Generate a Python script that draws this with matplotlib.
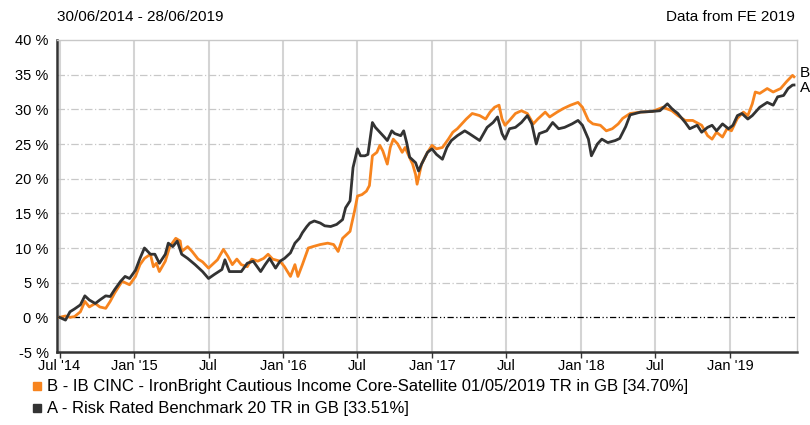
import matplotlib
matplotlib.use("Agg")
import matplotlib.pyplot as plt
import numpy as np

plt.rcParams['font.family'] = ['Liberation Sans', 'DejaVu Sans']

# Decimal-year positions and cumulative % growth
b_year = [2014.50, 2014.54, 2014.57, 2014.60, 2014.64, 2014.67, 2014.70, 2014.74, 2014.77, 2014.81,
          2014.84, 2014.87, 2014.92, 2014.95, 2014.97, 2015.01, 2015.04, 2015.07, 2015.11, 2015.13,
          2015.15, 2015.17, 2015.21, 2015.24, 2015.28, 2015.31, 2015.32, 2015.36, 2015.39, 2015.43,
          2015.46, 2015.50, 2015.51, 2015.56, 2015.60, 2015.63, 2015.66, 2015.69, 2015.72, 2015.76,
          2015.79, 2015.83, 2015.87, 2015.90, 2015.93, 2015.98, 2016.01, 2016.05, 2016.08, 2016.10,
          2016.13, 2016.17, 2016.20, 2016.25, 2016.30, 2016.34, 2016.37, 2016.40, 2016.45, 2016.46,
          2016.48, 2016.50, 2016.53, 2016.56, 2016.58, 2016.60, 2016.63, 2016.65, 2016.67, 2016.70,
          2016.72, 2016.74, 2016.77, 2016.80, 2016.82, 2016.84, 2016.87, 2016.89, 2016.90, 2016.93,
          2016.97, 2017.00, 2017.03, 2017.07, 2017.11, 2017.14, 2017.17, 2017.23, 2017.27, 2017.32,
          2017.36, 2017.39, 2017.42, 2017.45, 2017.47, 2017.49, 2017.52, 2017.56, 2017.60, 2017.64,
          2017.68, 2017.71, 2017.76, 2017.79, 2017.84, 2017.88, 2017.93, 2017.98, 2018.01, 2018.05,
          2018.08, 2018.13, 2018.17, 2018.21, 2018.25, 2018.28, 2018.33, 2018.40, 2018.48, 2018.55,
          2018.61, 2018.65, 2018.70, 2018.75, 2018.81, 2018.85, 2018.88, 2018.91, 2018.95, 2018.98,
          2019.01, 2019.05, 2019.09, 2019.12, 2019.15, 2019.17, 2019.20, 2019.25, 2019.29, 2019.34,
          2019.38, 2019.42, 2019.43]
b_pct = [0.0, 0.2, 0.0, 0.1, 0.8, 2.3, 1.5, 2.0, 1.5, 1.3,
         2.3, 3.5, 5.2, 4.9, 4.7, 5.9, 7.6, 8.5, 9.1, 7.3,
         7.8, 6.6, 8.1, 10.2, 11.4, 11.0, 9.5, 10.2, 9.5, 8.4,
         8.0, 7.1, 7.3, 8.3, 9.8, 8.8, 7.6, 8.4, 7.6, 7.3,
         8.4, 8.1, 8.5, 9.1, 8.4, 8.1, 7.3, 5.9, 7.6, 5.9,
         7.6, 10.0, 10.2, 10.5, 10.7, 10.5, 9.5, 11.4, 12.4, 13.4,
         15.3, 17.5, 17.7, 18.2, 19.0, 23.3, 23.8, 24.8, 24.0, 22.1,
         24.5, 25.7, 25.0, 23.8, 24.5, 23.5, 22.1, 20.6, 19.2, 22.1,
         23.8, 24.8, 24.3, 24.5, 25.7, 26.7, 27.2, 28.6, 29.4, 29.1,
         28.6, 29.6, 30.3, 30.6, 28.6, 27.7, 28.4, 29.4, 29.8, 29.4,
         27.9, 28.6, 29.6, 28.9, 29.6, 30.1, 30.6, 31.0, 30.3, 28.4,
         27.9, 27.7, 26.9, 27.2, 27.9, 28.7, 29.4, 29.6, 29.7, 30.3,
         29.8, 29.1, 28.4, 28.4, 27.7, 26.2, 25.7, 26.7, 26.0, 27.2,
         26.9, 28.7, 29.6, 29.1, 30.8, 32.5, 32.3, 33.0, 32.5, 33.0,
         34.0, 34.9, 34.7]

a_year = [2014.50, 2014.54, 2014.57, 2014.60, 2014.64, 2014.67, 2014.70, 2014.74, 2014.77, 2014.81,
          2014.84, 2014.87, 2014.91, 2014.94, 2014.97, 2015.01, 2015.04, 2015.07, 2015.11, 2015.14,
          2015.17, 2015.21, 2015.23, 2015.26, 2015.29, 2015.32, 2015.36, 2015.41, 2015.46, 2015.50,
          2015.54, 2015.59, 2015.61, 2015.64, 2015.69, 2015.72, 2015.76, 2015.80, 2015.85, 2015.88,
          2015.91, 2015.95, 2015.98, 2016.01, 2016.05, 2016.08, 2016.11, 2016.13, 2016.16, 2016.18,
          2016.21, 2016.25, 2016.28, 2016.32, 2016.36, 2016.40, 2016.42, 2016.45, 2016.47, 2016.50,
          2016.52, 2016.55, 2016.57, 2016.60, 2016.62, 2016.65, 2016.68, 2016.70, 2016.73, 2016.75,
          2016.79, 2016.81, 2016.83, 2016.85, 2016.89, 2016.91, 2016.93, 2016.97, 2017.00, 2017.03,
          2017.07, 2017.10, 2017.13, 2017.17, 2017.22, 2017.25, 2017.32, 2017.37, 2017.41, 2017.44,
          2017.47, 2017.49, 2017.52, 2017.56, 2017.60, 2017.64, 2017.67, 2017.70, 2017.72, 2017.77,
          2017.81, 2017.85, 2017.89, 2017.94, 2017.98, 2018.01, 2018.05, 2018.07, 2018.11, 2018.14,
          2018.18, 2018.23, 2018.26, 2018.30, 2018.33, 2018.40, 2018.48, 2018.53, 2018.58, 2018.61,
          2018.65, 2018.70, 2018.73, 2018.78, 2018.81, 2018.85, 2018.88, 2018.91, 2018.95, 2018.99,
          2019.02, 2019.05, 2019.08, 2019.12, 2019.15, 2019.20, 2019.25, 2019.29, 2019.32, 2019.36,
          2019.39, 2019.42, 2019.43]
a_pct = [0.0, -0.4, 0.8, 1.2, 1.8, 3.1, 2.5, 2.0, 2.5, 3.1,
         3.0, 4.0, 5.2, 5.9, 5.6, 6.8, 8.5, 10.0, 9.1, 9.1,
         7.8, 9.1, 10.7, 10.2, 11.0, 9.1, 8.5, 7.6, 6.6, 5.6,
         6.2, 6.9, 8.3, 6.6, 6.6, 6.6, 7.8, 8.1, 6.6, 7.6,
         8.5, 7.1, 8.1, 8.5, 9.3, 10.7, 11.4, 12.2, 13.1, 13.6,
         13.9, 13.6, 13.2, 13.1, 13.4, 14.1, 15.8, 16.8, 21.6, 24.3,
         23.3, 23.3, 23.5, 28.1, 27.4, 26.7, 26.0, 25.5, 26.9, 26.5,
         26.2, 26.9, 25.2, 23.1, 22.3, 21.1, 22.1, 23.8, 24.3, 23.5,
         22.8, 24.5, 25.5, 26.2, 26.9, 26.5, 25.5, 27.4, 28.1, 28.9,
         26.5, 25.7, 27.2, 27.4, 28.1, 29.1, 27.9, 25.0, 26.5, 26.9,
         28.1, 27.2, 27.4, 27.9, 28.4, 27.7, 25.7, 23.3, 25.0, 25.7,
         25.2, 25.5, 25.8, 27.5, 29.2, 29.6, 29.7, 29.8, 30.8, 30.1,
         29.4, 28.1, 27.2, 27.7, 26.7, 27.4, 27.7, 26.9, 27.9, 27.2,
         27.7, 29.1, 29.4, 28.6, 29.1, 30.3, 31.0, 30.6, 31.8, 32.0,
         33.0, 33.5, 33.51]

tick_pos = [2014.5, 2015.0, 2015.5, 2016.0, 2016.5, 2017.0, 2017.5, 2018.0, 2018.5, 2019.0]
tick_lbl = ["Jul '14", "Jan '15", "Jul", "Jan '16", "Jul", "Jan '17", "Jul", "Jan '18", "Jul", "Jan '19"]
y_ticks = [-5, 0, 5, 10, 15, 20, 25, 30, 35, 40]

orange = '#f7841e'
dark = '#333333'

fig = plt.figure(figsize=(8.1, 4.25), dpi=100)
ax = fig.add_axes([57/810, 73/425, 740/810, 312/425])

ax.plot(b_year, b_pct, color=orange, lw=2.0, zorder=3)
ax.plot(a_year, a_pct, color=dark, lw=2.0, zorder=4)

ax.set_xlim(2014.483, 2019.45)
ax.set_ylim(-5, 40)

# grid
for t in tick_pos:
    ax.axvline(t, color='#d4d4d4', lw=1.5, zorder=1)
for v in y_ticks[2:-1]:
    ax.axhline(v, color='#c8c8c8', lw=0.9, dashes=(6, 2, 1, 2), zorder=1)
ax.axhline(0, color='black', lw=0.9, dashes=(5, 2, 1, 2, 1, 2), zorder=2)

ax.set_xticks(tick_pos)
ax.set_xticklabels(tick_lbl, fontsize=10.5)
ax.set_yticks(y_ticks)
ax.set_yticklabels(['%d %%' % v for v in y_ticks], fontsize=10.5)
ax.tick_params(axis='x', length=4, width=1, color='#333333', pad=1)
ax.tick_params(axis='y', length=0, pad=6)

for s in ['top', 'right']:
    ax.spines[s].set_color('#c8c8c8')
    ax.spines[s].set_linewidth(1)
for s in ['left', 'bottom']:
    ax.spines[s].set_color('#333333')
    ax.spines[s].set_linewidth(1.8)

fig.text(57/810, 1 - 17/425, '30/06/2014 - 28/06/2019', fontsize=11, va='center', ha='left')
fig.text(795/810, 1 - 17/425, 'Data from FE 2019', fontsize=11, va='center', ha='right')

fig.text(800/810, 1 - 73/425, 'B', fontsize=11, va='center', ha='left')
fig.text(800/810, 1 - 88/425, 'A', fontsize=11, va='center', ha='left')

# legend rows
names = ['B - IB CINC - IronBright Cautious Income Core-Satellite 01/05/2019 TR in GB [34.70%]',
         'A - Risk Rated Benchmark 20 TR in GB [33.51%]']
for name, col, yy in zip(names, [orange, dark], [386, 408]):
    fig.patches.append(plt.Rectangle((33/810, 1 - (yy + 4)/425), 8/810, 8/425,
                                     transform=fig.transFigure, color=col, figure=fig))
    fig.text(47/810, 1 - yy/425, name, fontsize=12, va='center', ha='left')

fig.savefig('out.png', dpi=100)
